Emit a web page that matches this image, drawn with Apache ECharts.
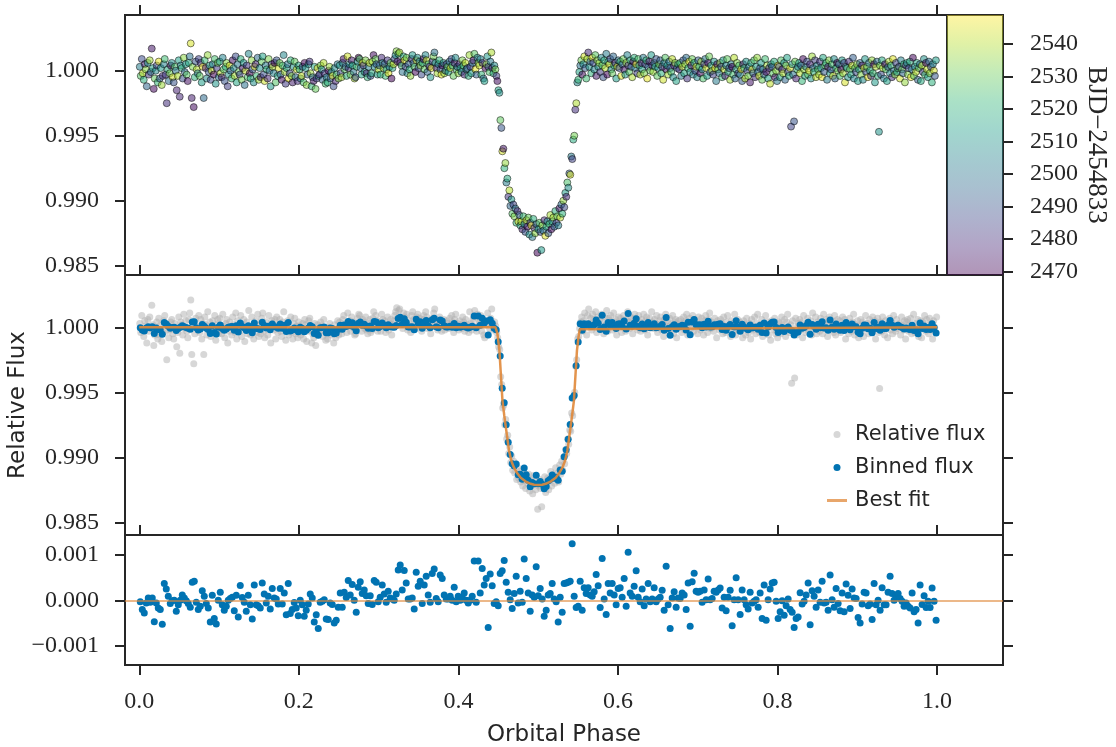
<!DOCTYPE html>
<html><head><meta charset="utf-8">
<script src="https://cdn.jsdelivr.net/npm/echarts@6.0.0/dist/echarts.min.js"></script>
<style>html,body{margin:0;padding:0;background:#fff}#c{width:1116px;height:747px}</style>
</head><body><div id="c"></div>
<script>
// ---------------- DATA ----------------
const phaseTicks = [0, 0.2, 0.4, 0.6, 0.8, 1.0];
const fluxTicks = [0.985, 0.990, 0.995, 1.000];
const residTicks = [-0.001, 0, 0.001];
const bjdTicks = [2470, 2480, 2490, 2500, 2510, 2520, 2530, 2540];
const seriesNames = ['Relative flux', 'Binned flux', 'Best fit'];

// residuals of binned flux (ppm), uniform phase bins 0..1
const residualPpm = [
-30,-200,-280,-60,50,-40,50,-470,-60,-170,
-200,-530,370,250,90,-70,-10,0,-240,-100,
0,120,50,-10,-70,-150,400,420,-40,-200,
-130,210,90,-70,-170,-480,110,-400,-520,0,
180,-100,-220,-130,0,40,70,-230,110,-370,
330,60,-40,-240,110,-100,-410,340,-100,-120,
-170,380,140,-60,90,-190,260,50,30,-80,
260,-80,160,-320,370,-290,-200,-50,-170,-340,
0,-100,-350,-220,-80,140,50,-480,-320,-620,
-40,-20,15,-410,-420,-60,-90,-500,-440,-150,
160,-150,180,60,440,120,350,0,-260,290,
410,150,230,100,-70,100,-90,440,400,-30,
70,340,140,-40,200,50,30,0,140,670,
780,230,
660,380,30,30,50,-190,620,310,420,-70,
340,530,120,-40,590,690,40,-30,560,480,
120,30,30,90,0,290,-30,90,0,70,
160,0,-60,0,90,870,-40,870,160,700,
340,480,-600,580,320,-70,-30,-120,590,650,
880,400,180,15,-180,150,530,-60,200,-40,
910,480,160,-240,120,70,740,100,260,30,
-350,-220,120,150,370,30,-30,-480,70,-260,
370,380,400,420,1250,90,-160,-130,420,-220,
280,150,280,120,90,190,570,320,-160,920,
30,-310,370,160,370,120,-100,260,280,70,
480,-130,1060,160,90,310,650,70,-30,250,
-120,30,370,-30,30,280,-30,30,70,220,
-220,750,-100,-620,50,190,
-150,50,40,160,120,-200,380,-570,410,600,
200,180,200,-40,230,15,470,15,40,200,
180,230,270,-170,70,-230,70,220,-560,15,
500,15,-310,230,15,-100,-190,180,-60,-20,
15,-150,160,-400,340,-440,15,250,380,400,
-20,-400,-250,-10,-330,-120,30,-200,-260,-600,
-400,-370,170,-80,-20,120,380,-540,210,90,
-150,230,-40,420,-60,-40,-220,560,15,-150,
260,-70,-230,160,-250,360,110,-180,250,50,
40,-380,-500,-80,180,160,-120,-80,-420,370,
-100,0,-220,280,-100,-100,180,530,150,0,
100,150,40,-20,-130,-60,-130,-170,160,-250,
-200,-500,340,-90,100,-160,-20,-160,270,-20,
-440
];

// binned relative flux, (flux - 1) in ppm, same bins
const binnedPpm = [
-30,-200,-280,-60,50,-40,50,-470,-60,-170,
-200,-530,370,250,90,-70,-10,0,-240,-100,
0,120,50,-10,-70,-150,400,420,-40,-200,
-130,210,90,-70,-170,-480,110,-400,-520,0,
180,-100,-220,-130,0,40,70,-230,110,-370,
330,60,-40,-240,110,-100,-410,340,-100,-120,
-170,380,140,-60,90,-190,260,50,30,-80,
260,-80,160,-320,370,-290,-200,-50,-170,-340,
0,-100,-350,-220,-80,140,50,-480,-320,-620,
-40,-20,15,-410,-420,-60,-90,-500,-440,-150,
160,-150,180,60,440,120,350,0,-260,290,
410,150,230,100,-70,100,-90,440,400,-30,
70,340,140,-40,200,50,30,0,140,670,
780,230,
660,380,30,30,50,-190,620,310,420,-70,
340,530,120,-40,590,690,40,-30,560,480,
120,30,30,90,0,290,-30,90,0,70,
160,0,-60,0,90,870,-40,870,160,700,
340,480,-600,580,320,-70,-180,-1120,-2210,-4690,
-5810,-7490,-8840,-9785,-10500,-10670,-10520,-11340,-11310,-11680,
-10825,-11350,-11760,-12260,-11940,-12030,-11390,-12040,-11870,-12070,
-12410,-12240,-11800,-11680,-11365,-11610,-11540,-11760,-10980,-11080,
-9950,-9420,-8620,-7470,-5440,-5250,-2960,-1130,270,-220,
280,150,280,120,90,190,570,320,-160,920,
30,-310,370,160,370,120,-100,260,280,70,
480,-130,1060,160,90,310,650,70,-30,250,
-120,30,370,-30,30,280,-30,30,70,220,
-220,750,-100,-620,50,190,
-150,50,40,160,120,-200,380,-570,410,600,
200,180,200,-40,230,15,470,15,40,200,
180,230,270,-170,70,-230,70,220,-560,15,
500,15,-310,230,15,-100,-190,180,-60,-20,
15,-150,160,-400,340,-440,15,250,380,400,
-20,-400,-250,-10,-330,-120,30,-200,-260,-600,
-400,-370,170,-80,-20,120,380,-540,210,90,
-150,230,-40,420,-60,-40,-220,560,15,-150,
260,-70,-230,160,-250,360,110,-180,250,50,
40,-380,-500,-80,180,160,-120,-80,-420,370,
-100,0,-220,280,-100,-100,180,530,150,0,
100,150,40,-20,-130,-60,-130,-170,160,-250,
-200,-500,340,-90,100,-160,-20,-160,270,-20,
-440
];

// best-fit transit model
const bestFitPhase = [0, 0.4465, 0.4478, 0.4489, 0.4500, 0.4514, 0.4530, 0.4552, 0.4575, 0.4606, 0.4635, 0.4665, 0.4697, 0.4740, 0.4781, 0.4840, 0.4906, 0.4950, 0.5000,
  0.5050, 0.5094, 0.5160, 0.5219, 0.5260, 0.5303, 0.5335, 0.5365, 0.5394, 0.5425, 0.5448, 0.5470, 0.5486, 0.5500, 0.5511, 0.5522, 0.5535, 1.0];
const bestFitFlux = [1.0, 1.0, 0.99985, 0.99951, 0.99895, 0.99822, 0.99660, 0.99436, 0.99320, 0.99178, 0.99049, 0.98970, 0.98920, 0.98875, 0.98843, 0.98815, 0.98796, 0.98789, 0.98786,
  0.98789, 0.98796, 0.98815, 0.98843, 0.98875, 0.98920, 0.98970, 0.99049, 0.99178, 0.99320, 0.99436, 0.99660, 0.99822, 0.99895, 0.99951, 0.99985, 1.0, 1.0];

// raw relative flux, (flux - 1) x 1e4, uniform phase sampling 0..1
const rawDev = [
3,-4,9,-2,-7,5,1,-12,6,-3,8,-1,17,2,-14,-6,0,4,-9,7,
-6,2,-11,-4,5,9,-3,-25,1,-8,-2,4,6,-5,-9,3,0,-15,-4,8,
-20,4,2,-6,10,-1,5,-3,-8,6,11,21,-21,3,-28,-5,7,1,-2,9,
-4,6,-9,3,-21,8,2,-6,12,-1,4,-7,0,5,-3,9,-10,2,6,-5,
7,-2,-5,10,1,-8,3,6,-12,-3,4,0,-6,8,2,-4,11,-9,5,-1,
-3,9,-7,2,6,-11,0,4,-5,13,-2,-6,8,1,-9,3,5,-4,10,-7,
2,-5,7,11,-3,-8,4,1,-6,9,0,-12,5,3,-2,6,-9,8,-4,2,
6,-3,-7,4,12,-1,-10,2,5,-6,-2,8,-4,-9,3,7,-5,1,-8,4,
1,-6,-4,3,-9,6,2,-11,-3,5,7,-2,-12,-5,-8,3,-14,-6,2,-4,
-3,4,1,-7,6,-2,-10,-5,-9,0,3,-6,-1,-4,-12,2,-8,-3,5,-6,
4,-2,-5,6,9,1,3,-4,11,2,5,-3,8,4,-1,-6,-5,3,7,10,
9,2,-3,6,4,-1,8,-2,-5,3,6,-4,-2,7,12,3,9,5,-3,1,
4,-3,10,6,2,5,-4,1,8,-2,3,6,-6,2,5,9,12,15,7,13,
14,6,4,-1,11,8,3,10,-2,5,1,-4,9,12,6,3,-1,8,10,2,
7,4,-3,6,9,1,12,8,-1,5,3,-5,2,7,11,14,6,2,-2,5,
8,1,-3,4,6,-2,0,5,3,-1,7,2,9,4,-4,6,10,1,3,-2,
5,2,-1,8,4,-3,6,1,2,-4,12,3,-2,6,8,13,1,-3,10,6,
4,9,-3,6,-6,-8,2,5,11,3,-1,7,14,2,-2,4,1,-4,-8,-15,
-17,-38,-44,-62,-60,-75,-71,-86,-83,-97,-92,-104,-99,-110,-103,-112,-106,-117,-108,-116,
-111,-119,-116,-122,-112,-118,-124,-115,-120,-113,-126,-117,-119,-128,-114,-121,-125,-118,-140,-122,
-117,-124,-138,-119,-123,-115,-127,-120,-116,-125,-118,-111,-122,-116,-113,-120,-108,-117,-112,-119,
-106,-113,-103,-110,-100,-105,-94,-97,-86,-90,-79,-80,-66,-68,-53,-50,-30,-25,-9,-7,
-1,4,8,-3,5,11,2,-6,9,14,3,7,-2,10,6,1,12,-4,8,3,
6,-1,10,4,-5,8,2,13,-3,7,5,9,1,-2,11,4,6,-6,3,8,
2,7,-4,5,9,1,-3,6,12,4,-1,8,3,-5,7,10,2,5,-2,9,
4,-3,6,1,10,-2,5,8,-6,3,7,0,12,4,-1,6,3,9,-4,2,
5,8,-2,3,-7,6,10,1,4,-3,7,2,-1,9,-5,4,6,-8,2,5,
1,6,-4,3,8,-2,5,10,-6,2,7,-1,4,9,-3,6,0,3,-5,8,
3,-2,7,1,-6,5,9,2,-4,6,11,-1,4,0,-3,7,2,-8,5,1,
-2,6,3,-5,8,1,-4,4,9,-1,2,-7,5,3,-3,10,-6,1,6,-2,
4,-3,1,-8,5,2,-6,7,0,-4,3,-9,6,1,-2,8,-5,3,10,-1,
-4,2,6,-7,1,-3,9,-1,4,-6,2,-10,5,3,-2,7,-5,0,-8,4,
3,-5,8,1,-2,6,-7,4,10,-1,-4,2,-43,5,-3,-39,7,-6,1,3,
6,-2,4,-8,9,1,-4,3,7,-3,0,5,-6,11,2,-1,8,-5,4,1,
-3,7,2,-5,10,-1,4,6,-7,3,8,-2,1,5,-4,9,-6,2,6,0,
5,-4,1,8,-2,6,-9,3,2,-5,7,1,-3,4,10,-6,2,-1,5,-8,
1,6,-3,4,-7,2,9,-1,3,-5,6,0,-4,8,-2,5,-9,3,7,-4,
-47,4,-3,8,2,-6,5,1,-8,3,7,-2,4,-5,9,0,-3,6,-1,2,
3,-6,8,1,-2,5,-9,4,6,-3,2,7,-5,1,10,-4,3,-1,6,-7,
2,5,-8,4,-1,9,-3,6,1,-5,7,-2,3,-9,5,0,-4,8
];

// observation time of each raw point, BJD - 2454833
const rawTime = [
2503,2527,2488,2541,2519,2476,2534,2495,2510,2482,2538,2499,2474,2515,2471,2530,2507,2486,2522,2546,
2493,2512,2537,2479,2505,2524,2484,2480,2518,2498,2532,2470,2509,2543,2490,2526,2501,2477,2539,2514,
2478,2506,2521,2489,2535,2496,2511,2528,2473,2517,2500,2544,2476,2533,2472,2520,2491,2540,2504,2485,
2529,2481,2513,2546,2497,2523,2475,2508,2536,2492,2516,2487,2542,2502,2470,2525,2511,2483,2531,2499,
2514,2540,2477,2505,2527,2490,2519,2534,2484,2510,2545,2496,2522,2473,2507,2538,2488,2516,2501,2530,
2486,2520,2532,2474,2512,2499,2541,2481,2526,2506,2470,2518,2535,2493,2509,2546,2479,2523,2497,2537,
2508,2475,2529,2515,2489,2543,2502,2521,2478,2533,2496,2512,2485,2539,2504,2471,2527,2491,2517,2544,
2531,2495,2472,2524,2506,2538,2483,2514,2500,2546,2488,2520,2534,2476,2511,2529,2498,2542,2480,2516,
2519,2503,2541,2487,2526,2470,2513,2535,2494,2508,2480,2537,2522,2499,2474,2516,2530,2485,2545,2505,
2477,2532,2510,2496,2540,2482,2525,2504,2517,2471,2536,2492,2513,2544,2489,2507,2478,2523,2501,2534,
2512,2486,2538,2502,2473,2528,2495,2519,2543,2481,2509,2531,2475,2515,2500,2539,2490,2524,2506,2470,
2527,2498,2515,2545,2484,2511,2533,2476,2521,2504,2542,2489,2518,2535,2472,2508,2530,2493,2514,2540,
2496,2520,2479,2507,2537,2491,2524,2513,2482,2546,2503,2529,2470,2517,2541,2488,2510,2534,2477,2522,
2539,2474,2525,2500,2516,2544,2485,2531,2506,2494,2520,2536,2480,2512,2497,2527,2471,2543,2509,2490,
2502,2534,2488,2518,2473,2529,2507,2540,2495,2523,2476,2511,2545,2484,2532,2499,2516,2479,2538,2505,
2521,2491,2545,2472,2510,2536,2498,2483,2527,2514,2502,2541,2487,2519,2530,2475,2508,2524,2493,2535,
2480,2517,2503,2533,2525,2478,2542,2509,2490,2520,2537,2486,2513,2499,2474,2528,2546,2494,2506,2531,
2543,2505,2522,2481,2497,2514,2470,2535,2511,2488,2526,2501,2539,2477,2519,2508,2532,2484,2472,2515,
2509,2529,2491,2544,2475,2521,2536,2503,2518,2482,2540,2496,2512,2527,2486,2533,2500,2522,2478,2545,
2493,2517,2538,2476,2524,2505,2490,2542,2473,2530,2511,2484,2546,2502,2520,2481,2535,2497,2470,2514,
2528,2489,2512,2534,2501,2479,2545,2516,2507,2492,2523,2538,2471,2510,2537,2495,2519,2483,2531,2504,
2474,2541,2498,2520,2536,2487,2513,2478,2526,2509,2494,2544,2503,2485,2518,2532,2480,2539,2506,2522,
2515,2500,2531,2472,2508,2543,2492,2524,2537,2479,2512,2497,2521,2546,2488,2505,2528,2475,2534,2510,
2535,2483,2506,2527,2490,2519,2540,2502,2471,2516,2544,2486,2509,2530,2496,2523,2477,2513,2542,2499,
2488,2522,2545,2497,2531,2474,2511,2536,2505,2482,2528,2517,2494,2539,2470,2520,2503,2544,2485,2526,
2510,2540,2476,2514,2502,2533,2487,2521,2546,2495,2473,2530,2512,2480,2537,2498,2518,2491,2529,2507,
2532,2494,2519,2483,2543,2506,2527,2472,2513,2538,2500,2489,2524,2541,2508,2477,2534,2515,2496,2520,
2479,2525,2503,2540,2490,2516,2535,2498,2481,2522,2545,2511,2476,2530,2504,2519,2489,2542,2507,2493,
2517,2471,2536,2509,2526,2485,2500,2543,2514,2475,2531,2496,2520,2538,2484,2511,2546,2502,2473,2528,
2499,2534,2488,2523,2512,2541,2478,2506,2529,2517,2491,2537,2504,2470,2525,2540,2495,2516,2533,2482,
2526,2507,2545,2493,2476,2520,2539,2511,2486,2532,2503,2474,2518,2544,2497,2527,2480,2512,2536,2501,
2542,2488,2513,2530,2505,2498,2524,2471,2537,2515,2482,2541,2509,2494,2528,2519,2473,2535,2502,2546,
2490,2518,2527,2479,2539,2508,2496,2533,2515,2487,2521,2544,2485,2512,2500,2490,2531,2477,2524,2506,
2513,2540,2494,2522,2472,2535,2517,2502,2489,2529,2545,2478,2510,2537,2499,2520,2484,2541,2505,2526,
2537,2481,2509,2546,2516,2492,2528,2520,2503,2474,2534,2513,2490,2524,2543,2507,2496,2519,2470,2532,
2502,2525,2471,2512,2538,2485,2544,2497,2523,2510,2479,2530,2517,2541,2493,2504,2527,2488,2535,2514,
2520,2496,2533,2476,2507,2542,2511,2489,2529,2546,2501,2518,2483,2536,2524,2472,2512,2539,2498,2521,
2510,2531,2487,2517,2540,2503,2475,2526,2514,2492,2538,2508,2522,2480,2545,2499,2533,2486,2515,2527,
2484,2543,2505,2530,2495,2521,2536,2478,2511,2534,2490,2519,2546,2501,2471,2528,2507,2541,2516,2493,
2528,2497,2518,2539,2482,2509,2524,2473,2541,2514,2500,2535,2488,2520,2506,2544,2491,2513
];

// ---------------- LAYOUT / STYLE ----------------
const INK = '#262626';
const SERIF = 'Liberation Serif';
const SANS = 'DejaVu Sans';
const BLUE = '#0173b2';
const ORANGE = '#e0883a';
const X_MIN = -0.0179, X_MAX_TOP = 1.0133, X_MAX = 1.0826;
const Y_TOP = [0.984285, 1.004285];
const Y_MID = [0.984023, 1.004023];
const Y_RES = [-0.001426, 0.001441];
const CB = [2468.98, 2548.87];
const viridis = ['#440154','#482878','#3e4989','#31688e','#26828e','#1f9e89','#35b779','#6ece58','#b5de2b','#fde725'];

const binPhase = residualPpm.map((_, i) => (i + 0.5) / residualPpm.length);
const rawPhase = rawDev.map((_, j) => (j + 0.5) / rawDev.length);

const rawTop = rawDev.map((d, j) => [rawPhase[j], 1 + d / 1e4, rawTime[j]]);
const rawMid = rawDev.map((d, j) => [rawPhase[j], 1 + d / 1e4]);
const binned = binnedPpm.map((d, i) => [binPhase[i], 1 + d / 1e6]);
const resid = residualPpm.map((d, i) => [binPhase[i], d / 1e6]);
const fit = bestFitPhase.map((p, i) => [p, bestFitFlux[i]]);

const tickStyle = {show: true, inside: false, length: 10, lineStyle: {color: INK, width: 2}};
const labelFont = {fontFamily: SERIF, fontSize: 24, color: INK};

function ax(o) {
  const base = {
    type: 'value', splitLine: {show: false}, axisLine: {show: false, onZero: false},
    axisTick: Object.assign({}, tickStyle, {customValues: o.ticks}),
    axisLabel: o.fmt ? Object.assign({show: true, customValues: o.ticks, formatter: o.fmt, margin: o.margin || 26}, labelFont)
                     : {show: false}
  };
  const r = Object.assign(base, o);
  delete r.ticks; delete r.fmt; delete r.margin;
  return r;
}
const f3 = v => (v < 0 ? '\u2212' : '') + Math.abs(v).toFixed(3);
const f1 = v => v.toFixed(1);
const fInt = v => String(Math.round(v));

const cbStops = viridis.slice().reverse().map((c, i, a) => {
  const r = parseInt(c.slice(1,3),16), g = parseInt(c.slice(3,5),16), b = parseInt(c.slice(5,7),16);
  return {offset: i / (a.length - 1), color: `rgba(${r},${g},${b},0.42)`};
});

const gridBase = {show: true, borderColor: INK, borderWidth: 2, backgroundColor: 'transparent', containLabel: false, outerBoundsMode: 'none'};

const option = {
  animation: false,
  backgroundColor: '#ffffff',
  grid: [
    Object.assign({left: 125, top: 15, width: 822, height: 260}, gridBase),
    Object.assign({left: 125, top: 275, width: 878, height: 260}, gridBase),
    Object.assign({left: 125, top: 535, width: 878, height: 130}, gridBase),
    Object.assign({left: 947, top: 15, width: 56, height: 260}, gridBase)
  ],
  xAxis: [
    ax({gridIndex: 0, position: 'top', min: X_MIN, max: X_MAX_TOP, ticks: phaseTicks}),
    ax({gridIndex: 1, position: 'top', min: X_MIN, max: X_MAX, ticks: phaseTicks}),
    ax({gridIndex: 2, position: 'bottom', min: X_MIN, max: X_MAX, ticks: phaseTicks, fmt: f1, margin: 25,
        name: 'Orbital Phase', nameLocation: 'middle', nameGap: 59,
        nameTextStyle: {fontFamily: SANS, fontSize: 23, color: INK}}),
    ax({gridIndex: 2, position: 'top', min: X_MIN, max: X_MAX, ticks: phaseTicks}),
    {gridIndex: 3, type: 'category', data: ['cb'], show: false}
  ],
  yAxis: [
    ax({gridIndex: 0, position: 'left', min: Y_TOP[0], max: Y_TOP[1], ticks: fluxTicks, fmt: f3}),
    ax({gridIndex: 1, position: 'left', min: Y_MID[0], max: Y_MID[1], ticks: fluxTicks, fmt: f3,
        name: 'Relative Flux', nameLocation: 'middle', nameGap: 95,
        nameTextStyle: {fontFamily: SANS, fontSize: 23, color: INK}}),
    ax({gridIndex: 1, position: 'right', min: Y_MID[0], max: Y_MID[1], ticks: fluxTicks}),
    ax({gridIndex: 2, position: 'left', min: Y_RES[0], max: Y_RES[1], ticks: residTicks, fmt: f3}),
    ax({gridIndex: 2, position: 'right', min: Y_RES[0], max: Y_RES[1], ticks: residTicks}),
    ax({gridIndex: 3, position: 'right', min: CB[0], max: CB[1], ticks: bjdTicks, fmt: fInt, margin: 27,
        name: 'BJD\u22122454833', nameLocation: 'middle', nameGap: 80, nameRotate: -90,
        nameTextStyle: {fontFamily: SERIF, fontSize: 27, color: INK}})
  ],
  visualMap: {
    type: 'continuous', show: false, seriesIndex: 0, dimension: 2,
    min: CB[0], max: CB[1], inRange: {color: viridis}
  },
  legend: {
    orient: 'vertical', left: 822, top: 419, itemWidth: 20, itemHeight: 7, itemGap: 12,
    selectedMode: false,
    data: [
      {name: seriesNames[0]},
      {name: seriesNames[1]},
      {name: seriesNames[2], icon: 'path://M0,0H20V3H0Z', itemStyle: {color: ORANGE, opacity: 0.75}}
    ],
    textStyle: {fontFamily: SANS, fontSize: 21, color: INK, padding: [0, 0, 0, 3]}
  },
  series: [
    {type: 'scatter', xAxisIndex: 0, yAxisIndex: 0, data: rawTop, symbolSize: 7, silent: true,
     itemStyle: {opacity: 0.55, borderColor: '#000', borderWidth: 0.9}},
    {name: seriesNames[0], type: 'scatter', xAxisIndex: 1, yAxisIndex: 1, data: rawMid, symbolSize: 7, silent: true,
     itemStyle: {color: '#b0b0b0', opacity: 0.5}},
    {name: seriesNames[1], type: 'scatter', xAxisIndex: 1, yAxisIndex: 1, data: binned, symbolSize: 7, silent: true,
     itemStyle: {color: BLUE, opacity: 1}, z: 3},
    {name: seriesNames[2], type: 'line', xAxisIndex: 1, yAxisIndex: 1, data: fit, showSymbol: false, symbol: 'none',
     silent: true, lineStyle: {color: ORANGE, width: 2.5, opacity: 0.9}, itemStyle: {color: ORANGE}, z: 4},
    {type: 'scatter', xAxisIndex: 2, yAxisIndex: 3, data: resid, symbolSize: 7, silent: true,
     itemStyle: {color: BLUE, opacity: 1}, z: 3,
     markLine: {silent: true, symbol: 'none', label: {show: false},
       lineStyle: {color: ORANGE, width: 2, type: 'solid', opacity: 0.6},
       data: [{yAxis: 0}]}},
    {type: 'bar', xAxisIndex: 4, yAxisIndex: 5, data: [CB[1]], barWidth: '100%', silent: true, clip: true,
     itemStyle: {color: new echarts.graphic.LinearGradient(0, 0, 0, 1, cbStops)}}
  ]
};

const chart = echarts.init(document.getElementById('c'), null, {renderer: 'canvas'});
chart.setOption(option);
</script>
</body></html>
